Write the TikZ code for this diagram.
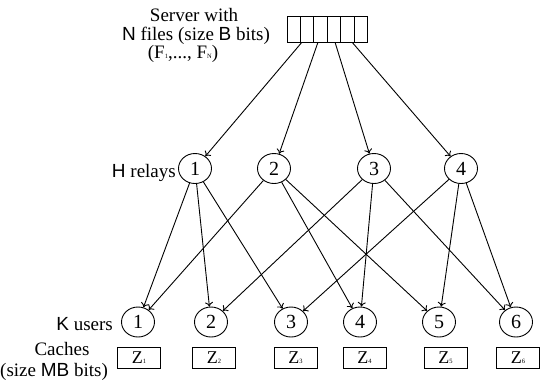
\documentclass[tikz,border=0pt]{standalone}
\usepackage{fontspec}
\setmainfont{Liberation Serif}
\newfontfamily\serf{Liberation Serif}
\newfontfamily\sansf{Liberation Sans}
\usetikzlibrary{shapes.geometric,calc,arrows.meta}
\newcommand{\tsub}[1]{{\fontsize{6.5}{6.5}\selectfont #1}}
\begin{document}
\begin{tikzpicture}[x=1pt,y=-1pt,
  every node/.style={font=\serf\fontsize{19}{19}\selectfont},
  relay/.style={draw, ellipse, minimum width=33pt, minimum height=30pt, inner sep=0pt, line width=0.9pt, font=\serf\fontsize{20}{20}\selectfont},
  cache/.style={draw, rectangle, minimum width=43pt, minimum height=21pt, inner sep=0pt, line width=0.9pt, font=\serf\fontsize{18}{18}\selectfont},
  link/.style={-{To[length=4.5pt,width=8pt]}, line width=0.9pt},
  lbl/.style={inner sep=0pt}
]
\useasboundingbox (0,0) rectangle (540,381);

% server
\node[draw, minimum width=80pt, minimum height=26pt, inner sep=0pt, line width=0.9pt] (server) at (327,29) {};
\foreach \i in {1,...,5}
  \draw[line width=0.9pt] ($(server.south west)!\i/6!(server.south east)$) -- ($(server.north west)!\i/6!(server.north east)$);
\coordinate (s1) at ($(server.south west)!0.1875!(server.south east)$);
\coordinate (s2) at ($(server.south west)!0.3875!(server.south east)$);
\coordinate (s3) at ($(server.south west)!0.6!(server.south east)$);
\coordinate (s4) at ($(server.south west)!0.8125!(server.south east)$);

\node[lbl, anchor=base] (t1) at (194,21.5) {Server with};
\node[lbl, anchor=base] (t2) at (196,40) {{\sansf N} files (size {\sansf B} bits)};
\node[lbl, anchor=base] (t3) at (183,58) {(F\tsub{1},..., F\tsub{N})};

% relays
\node[relay] (r1) at (195,168.5) {1};
\node[relay] (r2) at (274,168.5) {2};
\node[relay] (r3) at (374,168.5) {3};
\node[relay] (r4) at (461,168.5) {4};
\node[lbl, anchor=base east] (hl) at (176,177) {{\sansf H} relays};

% users
\node[relay] (u1) at (138,322) {1};
\node[relay] (u2) at (211,322) {2};
\node[relay] (u3) at (291,322) {3};
\node[relay] (u4) at (360,322) {4};
\node[relay] (u5) at (439,322) {5};
\node[relay] (u6) at (516,322) {6};
\node[lbl, anchor=base east] (kl) at (113,330) {{\sansf K} users};

% caches
\node[cache] (z1) at (139,357.5) {Z\tsub{1}};
\node[cache] (z2) at (214,357.5) {Z\tsub{2}};
\node[cache] (z3) at (295.5,357.5) {Z\tsub{3}};
\node[cache] (z4) at (364.5,357.5) {Z\tsub{4}};
\node[cache] (z5) at (445.5,357.5) {Z\tsub{5}};
\node[cache] (z6) at (518,357.5) {Z\tsub{6}};
\node[lbl, anchor=base] (cl) at (62,355) {Caches};
\node[lbl, anchor=base west] (sl) at (0,376) {(size {\sansf MB} bits)};

% server to relays
\draw[link] (s1) -- (r1);
\draw[link] (s2) -- (r2);
\draw[link] (s3) -- (r3);
\draw[link] (s4) -- (r4);

% relays to users
\draw[link] (r1) -- (u1);
\draw[link] (r1) -- (u2);
\draw[link] (r1) -- (u3);
\draw[link] (r2) -- (u1);
\draw[link] (r2) -- (u4);
\draw[link] (r2) -- (u5);
\draw[link] (r3) -- (u2);
\draw[link] (r3) -- (u4);
\draw[link] (r3) -- (u6);
\draw[link] (r4) -- (u3);
\draw[link] (r4) -- (u5);
\draw[link] (r4) -- (u6);
\end{tikzpicture}
\end{document}
